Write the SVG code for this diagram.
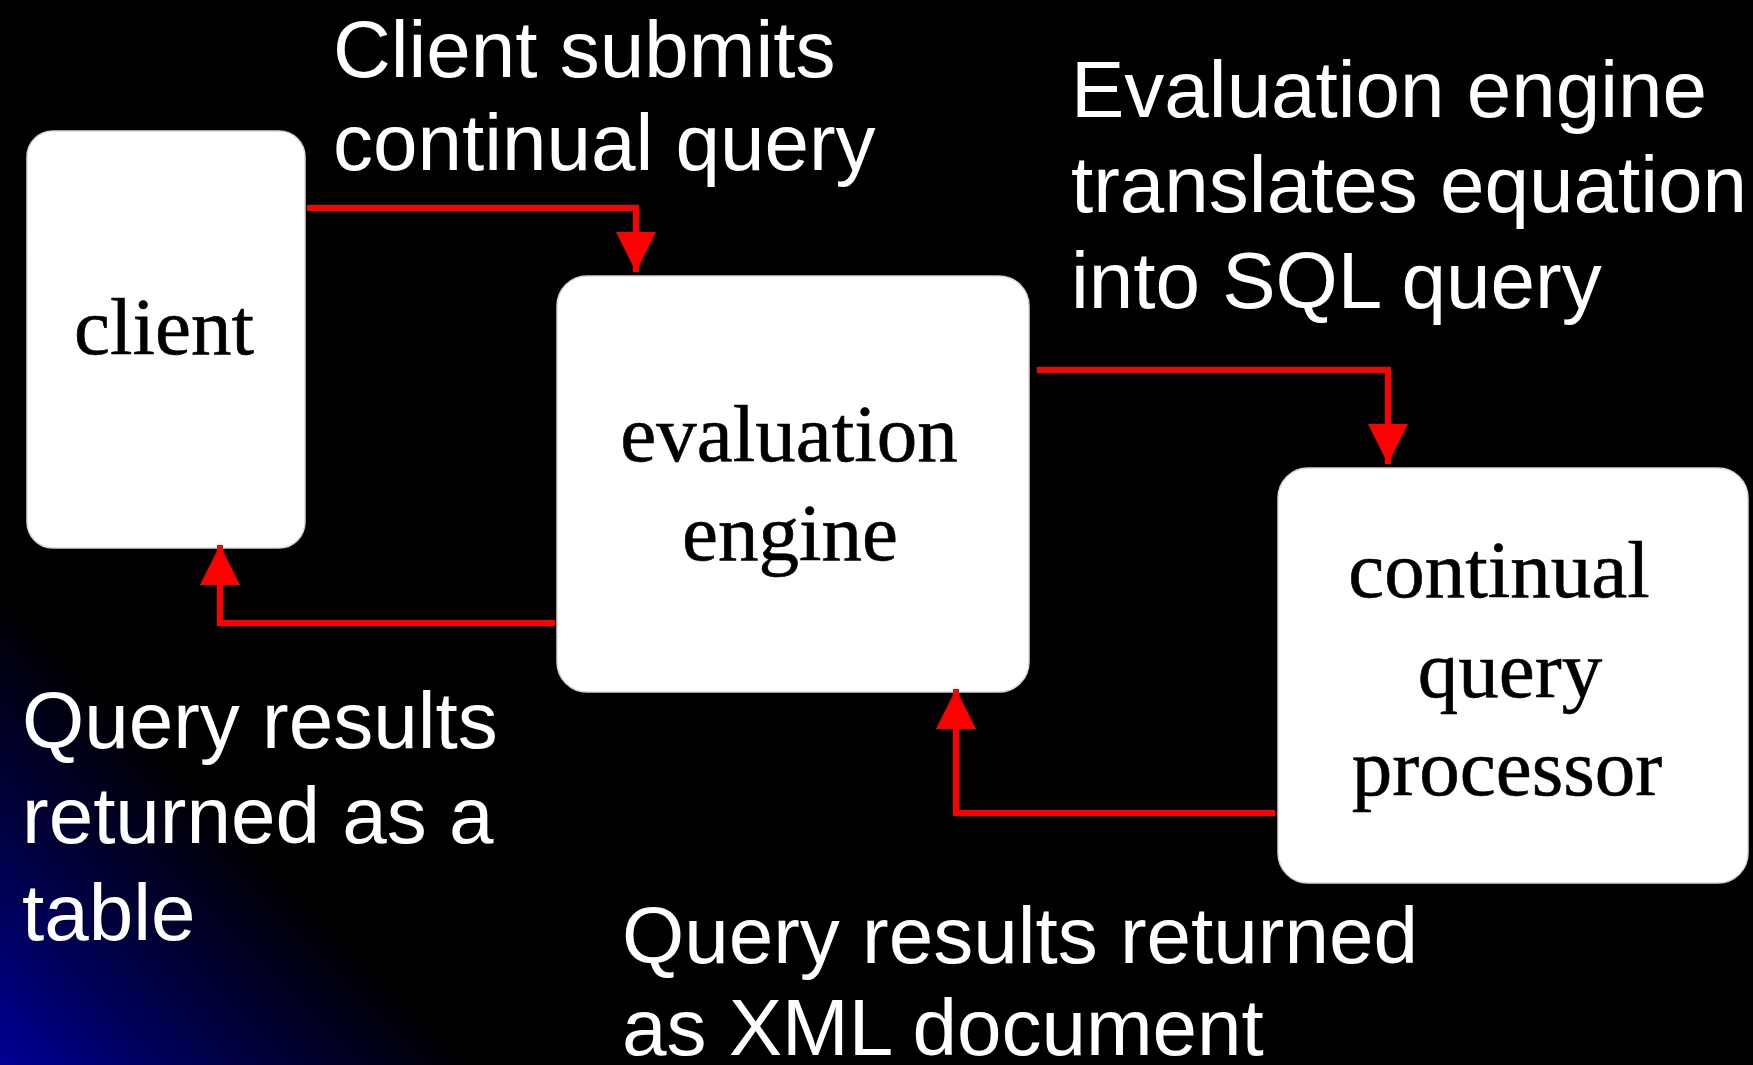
<svg xmlns="http://www.w3.org/2000/svg" width="1753" height="1065" viewBox="0 0 1753 1065">
<style>
.box{fill:#ffffff;stroke:#d8d8d8;stroke-width:1.5}
.nt{font-family:"Liberation Serif","Times New Roman",serif;font-size:81px;fill:#000000;stroke:#000000;stroke-width:0.6;text-anchor:middle}
.lb{font-family:"Liberation Sans",Arial,sans-serif;font-size:80px;fill:#ffffff}
.cn{fill:none;stroke:#ff0000;stroke-width:6}
</style>
<defs>
<linearGradient id="bg" gradientUnits="userSpaceOnUse" x1="0" y1="1065" x2="240" y2="825">
<stop offset="0" stop-color="#000096"/>
<stop offset="0.55" stop-color="#00003a"/>
<stop offset="1" stop-color="#000000"/>
</linearGradient>
<marker id="ah" markerUnits="userSpaceOnUse" markerWidth="40" markerHeight="40" viewBox="0 0 34 34" refX="34" refY="17" orient="auto">
<polygon points="0,0 34,17 0,34" fill="#ff0000"/>
</marker>
</defs>
<rect x="0" y="0" width="1753" height="1065" fill="url(#bg)"/>

<g id="client">
<rect class="box" x="27" y="131" width="278" height="417" rx="26" ry="26"/>
<text class="nt" x="164" y="354">client</text>
</g>
<g id="evaluation-engine">
<rect class="box" x="557" y="276" width="472" height="416" rx="30" ry="30"/>
<text class="nt" x="789" y="461">evaluation</text>
<text class="nt" x="790" y="560">engine</text>
</g>
<g id="continual-query-processor">
<rect class="box" x="1278" y="468" width="470" height="415" rx="30" ry="30"/>
<text class="nt" x="1499" y="597">continual</text>
<text class="nt" x="1510" y="697">query</text>
<text class="nt" x="1507" y="795">processor</text>
</g>

<g id="connectors">
<path class="cn" d="M307,208 H636 V272" marker-end="url(#ah)"/>
<path class="cn" d="M1037,370 H1388 V464" marker-end="url(#ah)"/>
<path class="cn" d="M1275,813 H956 V689" marker-end="url(#ah)"/>
<path class="cn" d="M555,623 H220 V545" marker-end="url(#ah)"/>
</g>

<g id="labels">
<text class="lb" x="333" y="77">Client submits</text>
<text class="lb" x="333" y="170">continual query</text>
<text class="lb" x="1071" y="117">Evaluation engine</text>
<text class="lb" x="1071" y="212">translates equation</text>
<text class="lb" x="1071" y="308">into SQL query</text>
<text class="lb" x="22" y="748">Query results</text>
<text class="lb" x="22" y="843">returned as a</text>
<text class="lb" x="22" y="940">table</text>
<text class="lb" x="622" y="963">Query results returned</text>
<text class="lb" x="622" y="1055">as XML document</text>
</g>
</svg>
